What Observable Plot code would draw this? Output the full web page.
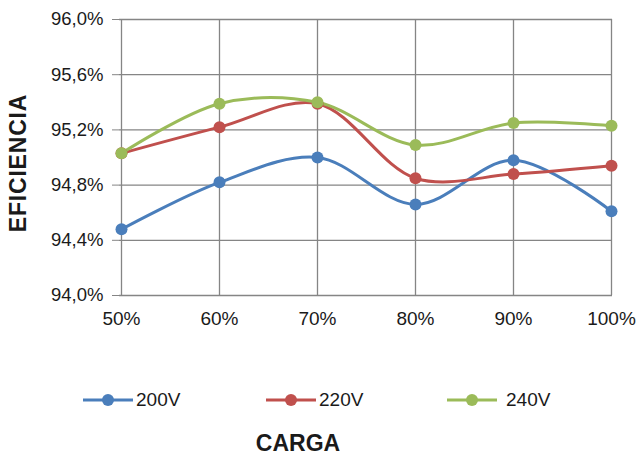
<!DOCTYPE html>
<html>
<head>
<meta charset="utf-8">
<script src="https://cdn.jsdelivr.net/npm/d3@7"></script>
<script src="https://cdn.jsdelivr.net/npm/@observablehq/plot@0.6"></script>
<style>
  html, body { margin: 0; padding: 0; background: #fff; }
  #wrap { position: relative; width: 638px; height: 457px; font-family: "Liberation Sans", Arial, sans-serif; color: #1a1a1a; }
  #chart { position: absolute; left: 0; top: 0; }
  .ytitle { position: absolute; left: 18px; top: 163px; transform: translate(-50%, -50%) rotate(-90deg); font-weight: bold; font-size: 23px; letter-spacing: 0.8px; white-space: nowrap; }
  .xtitle { position: absolute; left: 298px; top: 443px; transform: translate(-50%, -50%); font-weight: bold; font-size: 23px; white-space: nowrap; }
  .leg { position: absolute; top: 400px; transform: translateY(-50%); display: flex; align-items: center; font-size: 19px; white-space: nowrap; }
  .leg svg { display: block; }
</style>
</head>
<body>
<div id="wrap">
  <div id="chart"></div>
  <div class="ytitle">EFICIENCIA</div>
  <div class="xtitle">CARGA</div>
  <div id="legend"></div>
</div>
<script>
const categories = ["50%", "60%", "70%", "80%", "90%", "100%"];
const seriesNames = ["200V", "220V", "240V"];
const v200 = [94.48, 94.82, 95.00, 94.66, 94.98, 94.61];
const v220 = [95.03, 95.22, 95.39, 94.85, 94.88, 94.94];
const v240 = [95.03, 95.39, 95.40, 95.09, 95.25, 95.23];
const yTicks = [94.0, 94.4, 94.8, 95.2, 95.6, 96.0];
const colors = ["#4a7ebb", "#c0504d", "#9bbb59"];

const valuesBySeries = [v200, v220, v240];
const data = [];
seriesNames.forEach((s, i) => {
  categories.forEach((c, j) => data.push({series: s, carga: c, value: valuesBySeries[i][j]}));
});

const fmtY = d => d.toFixed(1).replace(".", ",") + "%";

const plot = Plot.plot({
  width: 638,
  height: 340,
  marginTop: 19,
  marginBottom: 45,
  marginLeft: 119,
  marginRight: 26,
  style: {fontFamily: "'Liberation Sans', Arial, sans-serif", color: "#1a1a1a", background: "transparent"},
  x: {type: "point", domain: categories, padding: 0, label: null},
  y: {domain: [94, 96], ticks: yTicks, label: null},
  color: {domain: seriesNames, range: colors},
  marks: [
    Plot.ruleY(yTicks, {y: d => d, stroke: "#858585", strokeWidth: 1.3}),
    Plot.ruleX(categories, {x: d => d, stroke: "#858585", strokeWidth: 1.3}),
    Plot.axisY({ticks: yTicks, tickFormat: fmtY, tickSize: 7, tickPadding: 9, stroke: "#858585", fontSize: 18.5, label: null}),
    Plot.axisX({tickSize: 0, tickPadding: 16, fontSize: 19, label: null}),
    Plot.line(data, {x: "carga", y: "value", z: "series", stroke: "series", strokeWidth: 3, curve: "catmull-rom"}),
    Plot.dot(data, {x: "carga", y: "value", fill: "series", r: 6, stroke: "none"})
  ]
});
document.getElementById("chart").appendChild(plot);

// Legend
const legendX = [83, 266, 447];
const legend = document.getElementById("legend");
seriesNames.forEach((s, i) => {
  const item = document.createElement("div");
  item.className = "leg";
  item.style.left = legendX[i] + "px";
  item.innerHTML = `<svg width="50" height="14"><line x1="0" y1="7" x2="50" y2="7" stroke="${colors[i]}" stroke-width="3"/><circle cx="25" cy="7" r="6" fill="${colors[i]}"/></svg><span style="margin-left:${i === 2 ? 9 : 3}px">${s}</span>`;
  legend.appendChild(item);
});
</script>
</body>
</html>
